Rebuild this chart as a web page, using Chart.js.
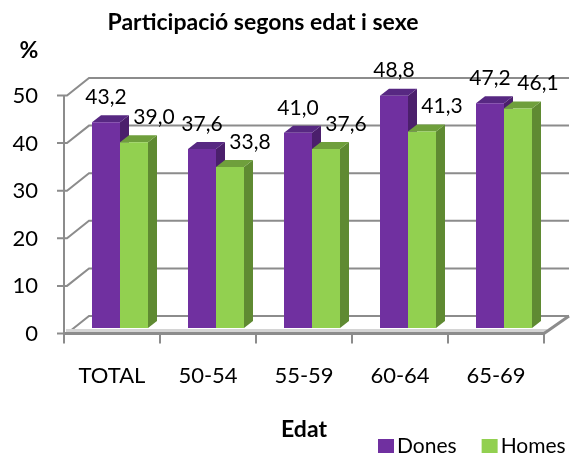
<!DOCTYPE html>
<html>
<head>
<meta charset="utf-8">
<script src="https://cdn.jsdelivr.net/npm/chart.js@4.4.0/dist/chart.umd.min.js"></script>
<style>
  html, body { margin: 0; padding: 0; background: #fff; }
  #wrap { width: 583px; height: 456px; }
</style>
</head>
<body>
<div id="wrap"><canvas id="myChart" width="583" height="456"></canvas></div>
<script>
const categories = ['TOTAL', '50-54', '55-59', '60-64', '65-69'];
const dones = [43.2, 37.6, 41.0, 48.8, 47.2];
const homes = [39.0, 33.8, 37.6, 41.3, 46.1];
const yTicks = [0, 10, 20, 30, 40, 50];
const seriesNames = ['Dones', 'Homes'];

const FONT = 'Lato, "Open Sans", sans-serif';

// 3D offsets, relative to the plane the bar fronts sit in
const front = { dx: -8, dy: 5.5 };   // floor front edge / value axis
const back = { dx: 17, dy: -12 };    // back wall
const depth = { dx: 9, dy: -7 };     // bar depth

const faces = [
    { front: '#7030a0', side: '#4b1f6c', top: '#572882' },
    { front: '#92d050', side: '#5f8a32', top: '#6f9f3c' }
];

const fmt = v => v.toFixed(1).replace('.', ',');

// walls, floor and bar sides / tops (drawn before the library draws the bar fronts)
const walls3d = {
    id: 'walls3d',
    beforeDatasetsDraw(chart) {
        const { ctx, chartArea: a, scales: { x, y } } = chart;
        const fl = a.left + front.dx, fr = a.right + front.dx;
        const bl = a.left + back.dx, br = a.right + back.dx;
        const y0 = y.getPixelForValue(0);
        ctx.save();
        ctx.lineCap = 'butt';
        ctx.strokeStyle = '#8c8c8c';
        ctx.lineWidth = 2;
        yTicks.forEach(v => {
            const py = y.getPixelForValue(v);
            ctx.beginPath();
            ctx.moveTo(fl - 7, py + front.dy);
            ctx.lineTo(fl + 3, py + front.dy);
            ctx.lineTo(bl, py + back.dy);
            ctx.lineTo(br, py + back.dy);
            ctx.stroke();
        });
        // value axis
        ctx.beginPath();
        ctx.moveTo(fl, y.getPixelForValue(50) + front.dy);
        ctx.lineTo(fl, y0 + front.dy);
        ctx.stroke();
        // floor
        ctx.strokeStyle = '#d4d4d4';
        ctx.lineWidth = 3;
        ctx.beginPath();
        ctx.moveTo(fl + 2, y0 + front.dy - 3);
        ctx.lineTo(fr + 3, y0 + front.dy - 3);
        ctx.stroke();
        ctx.strokeStyle = '#8c8c8c';
        ctx.lineWidth = 3;
        ctx.beginPath();
        ctx.moveTo(fl, y0 + front.dy);
        ctx.lineTo(fr, y0 + front.dy);
        ctx.lineTo(br, y0 + back.dy);
        ctx.stroke();
        // category ticks
        ctx.lineWidth = 2;
        for (let i = 0; i <= categories.length; i++) {
            const px = x.getPixelForValue(i - 0.5) + front.dx;
            ctx.beginPath();
            ctx.moveTo(px, y0 + front.dy);
            ctx.lineTo(px, y0 + front.dy + 10);
            ctx.stroke();
        }
        // bar sides and tops
        for (let i = 0; i < categories.length; i++) {
            chart.data.datasets.forEach((ds, d) => {
                const bar = chart.getDatasetMeta(d).data[i];
                const l = bar.x - bar.width / 2, r = bar.x + bar.width / 2;
                const t = bar.y, b = bar.base;
                ctx.fillStyle = faces[d].side;
                ctx.beginPath();
                ctx.moveTo(r, t);
                ctx.lineTo(r + depth.dx, t + depth.dy);
                ctx.lineTo(r + depth.dx, b + depth.dy);
                ctx.lineTo(r, b);
                ctx.closePath();
                ctx.fill();
                ctx.fillStyle = faces[d].top;
                ctx.beginPath();
                ctx.moveTo(l, t);
                ctx.lineTo(l + depth.dx, t + depth.dy);
                ctx.lineTo(r + depth.dx, t + depth.dy);
                ctx.lineTo(r, t);
                ctx.closePath();
                ctx.fill();
            });
        }
        ctx.restore();
    },
    afterDatasetsDraw(chart) {
        const { ctx } = chart;
        ctx.save();
        ctx.font = '21px ' + FONT;
        ctx.fillStyle = '#000';
        ctx.textAlign = 'center';
        ctx.textBaseline = 'middle';
        chart.data.datasets.forEach((ds, d) => {
            chart.getDatasetMeta(d).data.forEach((bar, i) => {
                const shift = d === 0 ? 0 : 20;
                ctx.fillText(fmt(ds.data[i]), bar.x + shift, bar.y - 25);
            });
        });
        ctx.restore();
    },
    afterDraw(chart) {
        const { ctx, chartArea: a } = chart;
        ctx.save();
        ctx.fillStyle = '#000';
        ctx.textBaseline = 'alphabetic';
        // title
        ctx.font = 'bold 23px ' + FONT;
        ctx.textAlign = 'center';
        ctx.fillText('Participació segons edat i sexe', 263, 30);
        // value axis title
        ctx.fillText('%', 29, 58);
        // category axis title
        ctx.fillText('Edat', (a.left + a.right) / 2 + front.dx, 437);
        // legend
        ctx.font = '21px ' + FONT;
        ctx.textAlign = 'left';
        let lx = 378;
        chart.data.datasets.forEach((ds) => {
            ctx.fillStyle = ds.backgroundColor;
            ctx.fillRect(lx, 439, 16, 14);
            ctx.fillStyle = '#000';
            ctx.fillText(ds.label, lx + 19, 453);
            lx += 19 + ctx.measureText(ds.label).width + 25;
        });
        ctx.restore();
    }
};

const ctx = document.getElementById('myChart').getContext('2d');
const myChart = new Chart(ctx, {
    type: 'bar',
    data: {
        labels: categories,
        datasets: [
            { label: seriesNames[0], data: dones, backgroundColor: faces[0].front },
            { label: seriesNames[1], data: homes, backgroundColor: faces[1].front }
        ]
    },
    options: {
        responsive: false,
        animation: false,
        events: [],
        layout: { padding: { top: 90, right: 31, bottom: 0, left: 0 } },
        datasets: {
            bar: { categoryPercentage: 0.5833, barPercentage: 1 }
        },
        plugins: {
            legend: { display: false },
            title: { display: false },
            tooltip: { enabled: false }
        },
        scales: {
            x: {
                grid: { display: false },
                border: { display: false },
                ticks: {
                    color: '#000',
                    font: { family: FONT, size: 22 },
                    labelOffset: -8,
                    padding: 27
                },
                afterFit(s) { s.height = 128; }
            },
            y: {
                min: 0,
                max: 50,
                grid: { display: false },
                border: { display: false },
                ticks: {
                    stepSize: 10,
                    color: '#000',
                    font: { family: FONT, size: 22 },
                    labelOffset: 6,
                    padding: 26
                },
                afterFit(s) { s.width = 72; }
            }
        }
    },
    plugins: [walls3d]
});
</script>
</body>
</html>
